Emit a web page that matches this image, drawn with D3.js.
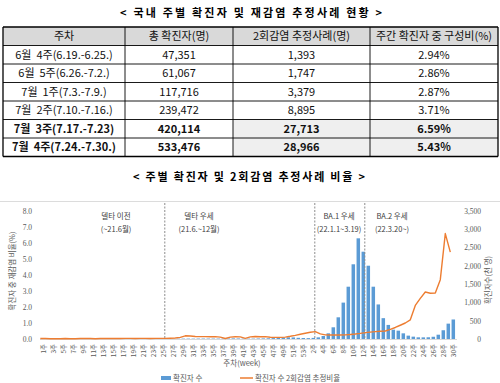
<!DOCTYPE html>
<html>
<head>
<meta charset="utf-8">
<script src="https://cdn.jsdelivr.net/npm/d3@7"></script>
<style>
body { margin: 0; background: #fff; }
svg { display: block; font-family: "Noto Sans CJK KR", "Noto Sans", sans-serif; }
text { white-space: pre; }
</style>
</head>
<body>
<div id="chart"></div>
<script>

// Table data /////////////////////////////////////////////////////////////////

const tableHead = ["주차", "총 확진자(명)", "2회감염 추정사례(명)", "주간 확진자 중 구성비(%)"];
const tableWeek = [
    "6월  4주(6.19.-6.25.)",
    "6월  5주(6.26.-7.2.)",
    "7월  1주(7.3.-7.9.)",
    "7월  2주(7.10.-7.16.)",
    "7월  3주(7.17.-7.23)",
    "7월  4주(7.24.-7.30.)"
];
const tableTotal = [47351, 61067, 117716, 239472, 420114, 533476];
const tableReinf = [1393, 1747, 3379, 8895, 27713, 28966];
const tableShare = [2.94, 2.86, 2.87, 3.71, 6.59, 5.43];
const tableBold  = [false, false, false, false, true, true];

// Chart data /////////////////////////////////////////////////////////////////

// week numbers: 2021 (1-53) then 2022 (1-30)
const weekNo = [
    1, 2, 3, 4, 5, 6, 7, 8, 9, 10, 11, 12, 13, 14, 15, 16, 17, 18, 19, 20,
    21, 22, 23, 24, 25, 26, 27, 28, 29, 30, 31, 32, 33, 34, 35, 36, 37, 38, 39, 40,
    41, 42, 43, 44, 45, 46, 47, 48, 49, 50, 51, 52, 53,
    1, 2, 3, 4, 5, 6, 7, 8, 9, 10, 11, 12, 13, 14, 15, 16, 17, 18, 19, 20,
    21, 22, 23, 24, 25, 26, 27, 28, 29, 30
];

// weekly confirmed cases (thousands)
const cases = [
    5.2, 4.4, 3.1, 2.9, 2.9, 2.6, 3.4, 2.9, 2.8, 3.0,
    3.1, 3.1, 3.3, 4.0, 4.4, 4.6, 4.4, 3.8, 4.0, 3.8,
    3.7, 3.6, 3.8, 3.3, 3.6, 4.5, 7.0, 9.4, 10.4, 10.6,
    10.2, 11.6, 12.4, 11.9, 11.9, 11.5, 12.6, 14.5, 17.0, 14.5,
    11.2, 10.6, 11.0, 14.0, 16.5, 19.6, 25.0, 32.0, 42.0, 46.0,
    43.0, 33.0, 27.0,
    24, 30, 45, 82, 155, 320, 593, 995, 1430, 2043,
    2753, 2387, 2004, 1430, 945, 570, 385, 255, 228, 155,
    92, 64, 46, 45, 47.351, 61.067, 117.716, 239.472, 420.114, 533.476
];

// share of reinfections among confirmed cases (%)
const ratio = [
    0.03, 0.03, 0.02, 0.02, 0.02, 0.03, 0.02, 0.02, 0.03, 0.03,
    0.03, 0.02, 0.03, 0.03, 0.04, 0.03, 0.03, 0.04, 0.04, 0.03,
    0.04, 0.04, 0.03, 0.04, 0.04, 0.04, 0.05, 0.06, 0.10, 0.20,
    0.19, 0.16, 0.15, 0.15, 0.14, 0.15, 0.12, 0.03, 0.12, 0.14,
    0.13, 0.04, 0.13, 0.16, 0.14, 0.15, 0.11, 0.10, 0.10, 0.12,
    0.17, 0.23, 0.30,
    0.36, 0.42, 0.46, 0.32, 0.26, 0.25, 0.25, 0.25, 0.26, 0.28,
    0.31, 0.35, 0.40, 0.43, 0.46, 0.48, 0.50, 0.60, 0.72, 0.86,
    1.00, 1.20, 2.10, 2.54, 2.94, 2.86, 2.87, 3.71, 6.59, 5.43
];

// dashed period separators (category index)
const dividers = [24, 54, 64];
const periodLabel = ["델타 이전", "델타 우세", "BA.1 우세", "BA.2 우세"];
const periodSub   = ["(~21.6월)", "(21.6.~12월)", "(22.1.1~3.19)", "(22.3.20~)"];

const blue = "#5b9bd5";
const orange = "#ed7d31";
const grey = "#595959";

const svg = d3.select("#chart")
    .append("svg")
        .attr("width", 500)
        .attr("height", 383)
        .attr("viewBox", [0, 0, 500, 383]);


// Table //////////////////////////////////////////////////////////////////////

svg.append("text")
    .attr("x", 251)
    .attr("y", 16.5)
    .attr("text-anchor", "middle")
    .attr("font-size", 11)
    .attr("font-weight", "bold")
    .attr("textLength", 262)
    .attr("lengthAdjust", "spacing")
    .text("< 국내 주별 확진자 및 재감염 추정사례 현황 >");

const colEdges = [3, 125, 233, 370, 498];
const tableTop = 27, headH = 18.5, rowH = 18.5;
const fmt = d3.format(",");

const tableRows = tableWeek.map((w, i) => ({
    cells: [w, fmt(tableTotal[i]), fmt(tableReinf[i]), tableShare[i].toFixed(2) + "%"],
    bold: tableBold[i]
}));

const table = svg.append("g");

// header fill
table.append("rect")
    .attr("x", colEdges[0])
    .attr("y", tableTop)
    .attr("width", colEdges[4] - colEdges[0])
    .attr("height", headH)
    .attr("fill", "#d9d9d9");

// shaded cells of bold rows
tableRows.forEach((r, i) => {
    if (!r.bold) return;
    table.append("rect")
        .attr("x", colEdges[2])
        .attr("y", tableTop + headH + i * rowH)
        .attr("width", colEdges[4] - colEdges[2])
        .attr("height", rowH)
        .attr("fill", "#efefef");
});

tableHead.forEach((h, c) => {
    table.append("text")
        .attr("x", (colEdges[c] + colEdges[c + 1]) / 2)
        .attr("y", tableTop + headH / 2 + 4)
        .attr("text-anchor", "middle")
        .attr("font-size", 11)
        .attr("fill", "#111")
        .text(h);
});

tableRows.forEach((r, i) => {
    r.cells.forEach((v, c) => {
        table.append("text")
            .attr("x", (colEdges[c] + colEdges[c + 1]) / 2)
            .attr("y", tableTop + headH + i * rowH + rowH / 2 + 4)
            .attr("text-anchor", "middle")
            .attr("font-size", 11)
            .attr("font-weight", r.bold ? "bold" : "normal")
            .attr("fill", "#111")
            .text(v);
    });
});

// grid lines
const tableBottom = tableTop + headH + tableRows.length * rowH;
d3.range(tableRows.length + 2).forEach(k => {
    const y = k === 0 ? tableTop : tableTop + headH + (k - 1) * rowH;
    table.append("line")
        .attr("x1", colEdges[0]).attr("x2", colEdges[4])
        .attr("y1", y).attr("y2", y)
        .attr("stroke", "#000")
        .attr("stroke-width", k === 0 || k === tableRows.length + 1 ? 1.3 : 0.9);
});
colEdges.forEach((x, c) => {
    table.append("line")
        .attr("x1", x).attr("x2", x)
        .attr("y1", tableTop).attr("y2", tableBottom)
        .attr("stroke", "#000")
        .attr("stroke-width", c === 0 || c === 4 ? 1.3 : 0.9);
});


// Chart //////////////////////////////////////////////////////////////////////

svg.append("text")
    .attr("x", 249)
    .attr("y", 181)
    .attr("text-anchor", "middle")
    .attr("font-size", 11)
    .attr("font-weight", "bold")
    .attr("textLength", 232)
    .attr("lengthAdjust", "spacing")
    .text("< 주별 확진자 및 2회감염 추정사례 비율 >");

// chart border (only top edge visible)
svg.append("line")
    .attr("x1", 0).attr("x2", 500)
    .attr("y1", 201.5).attr("y2", 201.5)
    .attr("stroke", "#dcdcdc");

const idx = weekNo.map((_, i) => i);

const x = d3.scaleBand()
    .domain(idx)
    .range([40.8, 455.8])
    .paddingInner(0.3)
    .paddingOuter(0.15);

const cx = i => x(i) + x.bandwidth() / 2;

const yLeft = d3.scaleLinear().domain([0, 8]).range([339, 211]);
const yRight = d3.scaleLinear().domain([0, 3500]).range([339, 211]);

// bars
svg.append("g")
    .selectAll("rect")
    .data(cases)
    .join("rect")
    .attr("x", (d, i) => x(i))
    .attr("y", d => yRight(d))
    .attr("width", x.bandwidth())
    .attr("height", d => yRight(0) - yRight(d))
    .attr("fill", blue);

// baseline
svg.append("line")
    .attr("x1", 40).attr("x2", 457)
    .attr("y1", yLeft(0) + 0.5).attr("y2", yLeft(0) + 0.5)
    .attr("stroke", "#d9d9d9");

// dividers
svg.append("g")
    .selectAll("line")
    .data(dividers)
    .join("line")
    .attr("x1", d => cx(d) + 1.5)
    .attr("x2", d => cx(d) + 1.5)
    .attr("y1", 203)
    .attr("y2", 339)
    .attr("stroke", "#8c8c8c")
    .attr("stroke-width", 1)
    .attr("stroke-dasharray", "2,1.5");

// line
const line = d3.line()
    .x((d, i) => cx(i) - 3)
    .y(d => yLeft(d));

svg.append("path")
    .datum(ratio)
    .attr("d", line)
    .attr("fill", "none")
    .attr("stroke", orange)
    .attr("stroke-width", 1.4)
    .attr("stroke-linejoin", "round");

// period annotations
const periodX = [116, 199, 339, 392];
const periods = svg.append("g")
    .attr("font-size", 7.5)
    .attr("fill", "#404040")
    .attr("text-anchor", "middle");
periodLabel.forEach((t, i) => {
    periods.append("text").attr("x", periodX[i]).attr("y", 218.5).text(t);
    periods.append("text").attr("x", periodX[i]).attr("y", 231.5).text(periodSub[i]);
});

// left axis
svg.append("g")
    .attr("transform", "translate(32,0)")
    .call(d3.axisLeft(yLeft).ticks(8).tickFormat(d3.format(".1f")).tickSize(0).tickPadding(0))
    .call(g => g.select(".domain").remove())
    .call(g => g.selectAll("text")
        .attr("fill", grey)
        .attr("font-size", 7.5)
        .attr("font-family", "'Liberation Serif', serif"));

// right axis
svg.append("g")
    .attr("transform", "translate(481,0)")
    .call(d3.axisLeft(yRight).tickValues(d3.range(0, 3501, 500)).tickFormat(d3.format(",")).tickSize(0).tickPadding(0))
    .call(g => g.select(".domain").remove())
    .call(g => g.selectAll("text")
        .attr("fill", grey)
        .attr("font-size", 7.5)
        .attr("font-family", "'Liberation Serif', serif"));

// x tick labels (every other week)
svg.append("g")
    .selectAll("text")
    .data(idx.filter(i => i % 2 === 0))
    .join("text")
    .attr("transform", i => `translate(${cx(i) + 2.5},344) rotate(-90)`)
    .attr("text-anchor", "end")
    .attr("font-size", 6.5)
    .attr("fill", grey)
    .text(i => weekNo[i] + "주");

// axis titles
svg.append("text")
    .attr("transform", "translate(15,271) rotate(-90)")
    .attr("text-anchor", "middle")
    .attr("font-size", 7.5)
    .attr("fill", grey)
    .text("확진자 중 재감염 비율(%)");

svg.append("text")
    .attr("transform", "translate(491,280) rotate(-90)")
    .attr("text-anchor", "middle")
    .attr("font-size", 7.5)
    .attr("fill", grey)
    .text("확진자수(천 명)");

svg.append("text")
    .attr("x", 242)
    .attr("y", 366)
    .attr("text-anchor", "middle")
    .attr("font-size", 7.5)
    .attr("fill", grey)
    .text("주차(week)");

// legend
const legend = svg.append("g").attr("font-size", 7.5).attr("fill", grey);
legend.append("rect")
    .attr("x", 161).attr("y", 376).attr("width", 10).attr("height", 4)
    .attr("fill", blue);
legend.append("text").attr("x", 173).attr("y", 381).text("확진자 수");
legend.append("line")
    .attr("x1", 240).attr("x2", 253).attr("y1", 378).attr("y2", 378)
    .attr("stroke", orange).attr("stroke-width", 1.5);
legend.append("text").attr("x", 255).attr("y", 381).text("확진자 수 2회감염 추정비율");

</script>
</body>
</html>
